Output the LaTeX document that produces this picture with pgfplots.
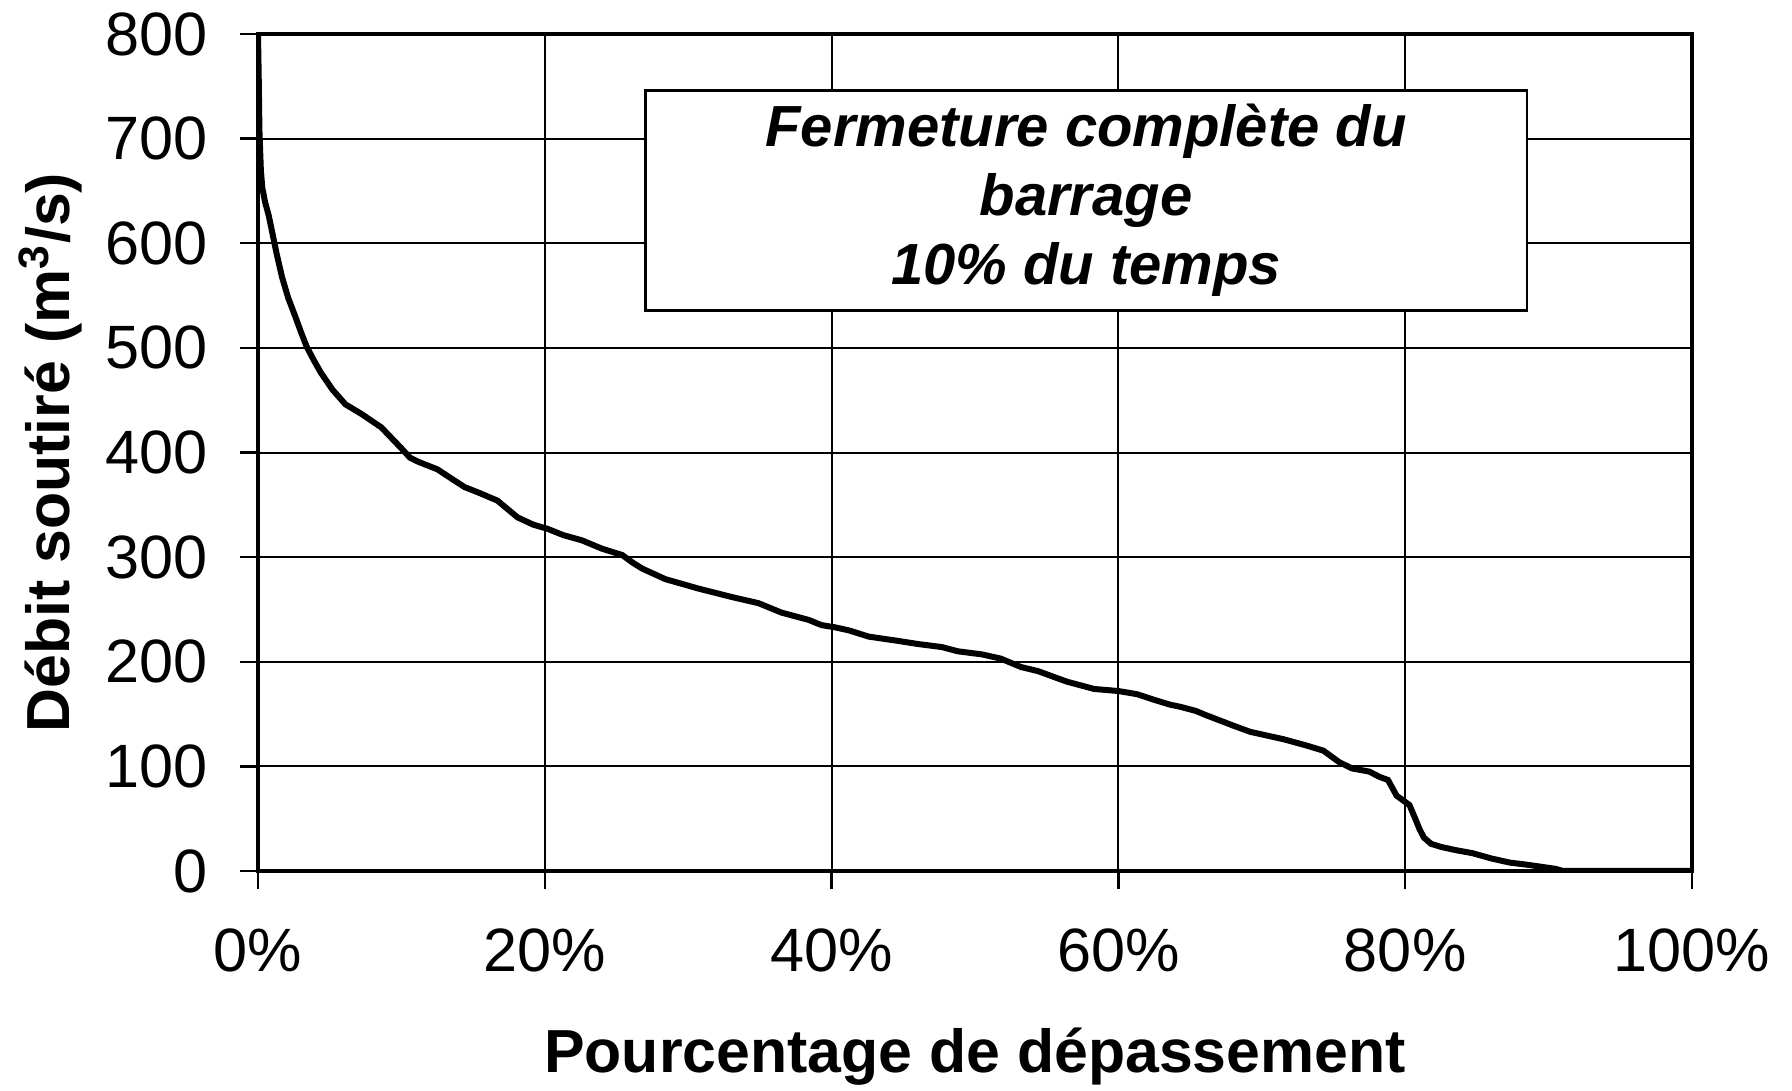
\documentclass[border=0pt]{standalone}
\usepackage{fontspec}
\setmainfont{Liberation Sans}
\usepackage{pgfplots}
\pgfplotsset{compat=1.18}
\begin{document}
\begin{tikzpicture}
\begin{axis}[
  at={(0,0)}, anchor=south west,
  scale only axis,
  width=358.5pt, height=209.25pt,
  xmin=0, xmax=100, ymin=0, ymax=800,
  xtick={0,20,40,60,80,100},
  xticklabels={0\%,20\%,40\%,60\%,80\%,100\%},
  ytick={0,100,...,800},
  tick pos=left,
  tick align=outside,
  major tick length=4.5pt,
  every tick/.style={black, line width=0.6pt},
  grid=major,
  major grid style={black, line width=0.5pt},
  axis line style={black, line width=0.8pt},
  /pgf/number format/assume math mode=true,
  ticklabel style={font=\fontsize{15.3}{16}\selectfont},
  xticklabel style={yshift=-6.5pt},
  yticklabel style={xshift=-4.5pt},
  xlabel={\bfseries Pourcentage de dépassement},
  ylabel={\bfseries Débit soutiré (m\textsuperscript{3}/s)},
  label style={font=\fontsize{15.2}{17}\selectfont},
  xlabel style={yshift=-7pt},
  ylabel style={yshift=-1pt},
]
\addplot[black, line width=1.5pt] table {
x y
0 800
0.05 760
0.1 708
0.2 670
0.3 653
0.5 639
0.74 627
1.0 610
1.3 590
1.67 568
2.1 548
2.6 530
3.0 515
3.4 501
3.9 488
4.4 476
5.2 460
6.1 446
7.2 437
8.6 424
9.3 414
10 404
10.6 395
11.2 391
12.5 384
13.5 375
14.4 367
15.5 361
16.7 354
17.4 346
18.1 338
19.2 331
20.2 327
21.3 321
22.6 316
24 308
25.4 302
26.1 295
26.8 289
28.4 279
30.7 270
33.0 262
34.9 256
36.5 247
38.4 240
39.3 235
40.2 233
41.2 230
42.6 224
44.6 220
46.0 217
47.7 214
48.8 210
50.5 207
51.8 203
53.2 195
54.4 191
55.2 187
56.4 181
58.3 174
60 172
61.3 169
62.4 164
63.6 159
64.3 157
65.4 153
66.1 149
68 139
69.2 133
71.5 126
73.1 120
74.3 115
75.4 104
76.3 98
77.5 95
78.2 90
78.8 87
79.4 72
80.3 63
80.7 50
81.0 40
81.3 32
81.8 26
82.5 23
83.5 20
84.7 17
86 12
87.3 8
88.5 6
89.5 4
90.5 2
91 0
100 0
};
\draw[black, line width=0.7pt, fill=white] (axis cs:27,746) rectangle (axis cs:88.5,536);
\node[align=center, font=\fontsize{14.5}{17.2}\selectfont\bfseries\itshape] at (axis cs:57.75,641) {Fermeture complète du\\barrage\\10\% du temps};
\end{axis}
\pgfresetboundingbox
\path (-64.5pt,-55pt) rectangle (383.5pt,217.75pt);
\end{tikzpicture}
\end{document}
